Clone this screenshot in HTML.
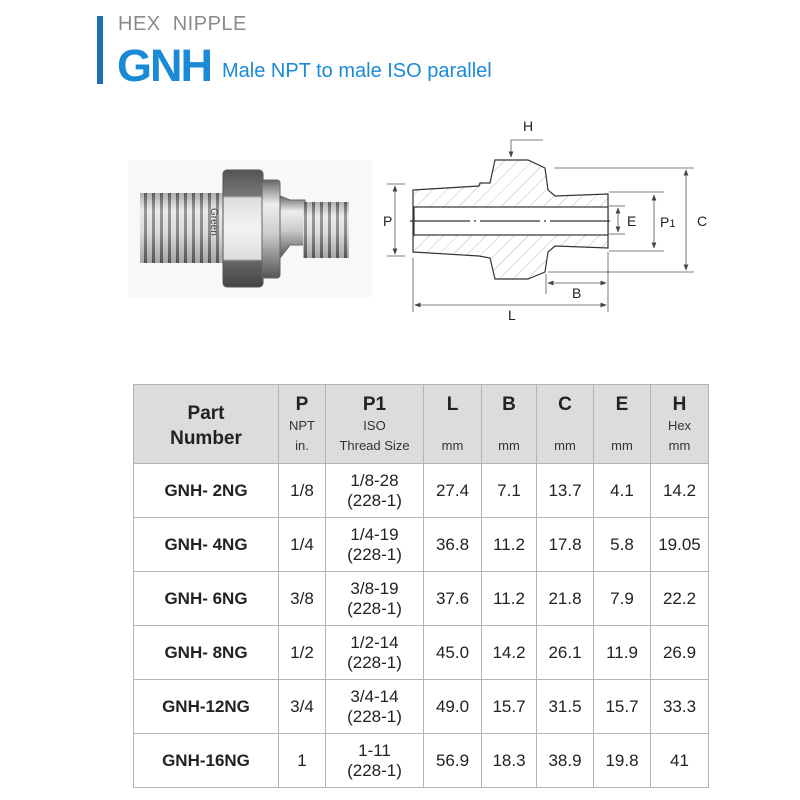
<!DOCTYPE html>
<html><head><style>
body{margin:0;width:800px;height:800px;background:#fff;position:relative;font-family:"Liberation Sans",sans-serif;overflow:hidden}
.abs{position:absolute}
table{position:absolute;left:133px;top:384px;border-collapse:collapse;table-layout:fixed;font-family:"Liberation Sans",sans-serif;color:#222}
td{border:1px solid #b4b4b4;text-align:center;padding:0;font-size:17px;line-height:20px}
tr.h td{background:#dcdcdc;height:78px;vertical-align:top}
tr.r td{height:53px}
.big{font-size:19px;font-weight:bold;display:block;margin-top:10px}
.sm{font-size:13px;line-height:15px;color:#333}
.pn{font-weight:bold;font-size:17px}
</style></head><body>
<div class="abs" style="left:97px;top:16px;width:6px;height:68px;background:#1a6fb8"></div>
<div class="abs" style="left:118px;top:13px;font-size:20px;color:#8a8a8a;letter-spacing:0.5px">HEX&nbsp; NIPPLE</div>
<div class="abs" style="left:117px;top:40px;font-size:45px;font-weight:bold;color:#1a8ad6;letter-spacing:-2px">GNH</div>
<div class="abs" style="left:222px;top:60px;font-size:20px;color:#1a8ad6">Male NPT to male ISO parallel</div>

<svg class="abs" style="left:0;top:0" width="800" height="380">
<defs>
<linearGradient id="m" x1="0" y1="0" x2="0" y2="1"><stop offset="0" stop-color="#666"/><stop offset=".25" stop-color="#eee"/><stop offset=".55" stop-color="#ccc"/><stop offset="1" stop-color="#555"/></linearGradient>
<linearGradient id="hx" x1="0" y1="0" x2="0" y2="1"><stop offset="0" stop-color="#555"/><stop offset=".22" stop-color="#777"/><stop offset=".24" stop-color="#ddd"/><stop offset=".5" stop-color="#f4f4f4"/><stop offset=".76" stop-color="#ddd"/><stop offset=".78" stop-color="#666"/><stop offset="1" stop-color="#444"/></linearGradient>
<pattern id="th" width="8" height="10" patternUnits="userSpaceOnUse"><rect width="8" height="10" fill="#e8e8e8"/><rect width="3" height="10" fill="#555"/></pattern>
<pattern id="ha" width="10" height="10" patternUnits="userSpaceOnUse" patternTransform="rotate(45)"><line x1="0" y1="0" x2="0" y2="10" stroke="#bbb" stroke-width="1"/></pattern>
<marker id="a" markerWidth="8" markerHeight="6" refX="7" refY="3" orient="auto-start-reverse"><path d="M0,0 L8,3 L0,6" fill="#444"/></marker>
</defs>
<rect x="128" y="160" width="244" height="137" fill="#f8f8f8"/>
<rect x="140" y="193" width="85" height="70" fill="url(#th)"/>
<rect x="140" y="193" width="85" height="70" fill="url(#m)" opacity=".45"/>
<rect x="223" y="170" width="40" height="117" rx="4" fill="url(#hx)" stroke="#555"/>
<rect x="262" y="180" width="18" height="98" rx="3" fill="url(#m)" stroke="#666"/>
<path d="M280,196 L290,200 L305,200 L305,245 L290,245 L280,258 Z" fill="url(#m)" stroke="#666"/>
<rect x="303" y="202" width="46" height="56" fill="url(#th)"/>
<rect x="303" y="202" width="46" height="56" fill="url(#m)" opacity=".45"/>
<text x="211" y="208" font-size="10" fill="#444" transform="rotate(90 211 208)">Green</text>
<g stroke="#333" stroke-width="1.2" fill="none">
<path d="M413,190 L479,186 L480,183 L490,183 L495,160 L528,160 L545,168 L548,190 L555,196 L608,194 L608,248 L555,246 L548,252 L545,272 L528,279 L495,279 L490,258 L479,256 L413,252 Z" fill="url(#ha)"/>
<rect x="414" y="207" width="194" height="28" fill="#fff"/>
<line x1="410" y1="221" x2="612" y2="221" stroke-dasharray="60 4 2 4"/>
</g>
<g stroke="#555" stroke-width="0.8" fill="none">
<path d="M543,140 L511,140 L511,157" marker-end="url(#a)"/>
<line x1="387" y1="184" x2="405" y2="184"/><line x1="387" y1="256" x2="405" y2="256"/>
<line x1="395" y1="186" x2="395" y2="254" marker-start="url(#a)" marker-end="url(#a)"/>
<line x1="554" y1="168" x2="694" y2="168"/><line x1="548" y1="272" x2="694" y2="272"/>
<line x1="686" y1="170" x2="686" y2="270" marker-start="url(#a)" marker-end="url(#a)"/>
<line x1="609" y1="192" x2="664" y2="192"/><line x1="609" y1="251" x2="664" y2="251"/>
<line x1="654" y1="195" x2="654" y2="248" marker-start="url(#a)" marker-end="url(#a)"/>
<line x1="609" y1="206" x2="625" y2="206"/><line x1="609" y1="234" x2="625" y2="234"/>
<line x1="618" y1="208" x2="618" y2="232" marker-start="url(#a)" marker-end="url(#a)"/>
<line x1="546" y1="274" x2="546" y2="294"/><line x1="608" y1="252" x2="608" y2="312"/>
<line x1="548" y1="283" x2="606" y2="283" marker-start="url(#a)" marker-end="url(#a)"/>
<line x1="413" y1="258" x2="413" y2="312"/>
<line x1="415" y1="305" x2="606" y2="305" marker-start="url(#a)" marker-end="url(#a)"/>
</g>
<g font-size="14" fill="#222" font-family="Liberation Sans">
<text x="523" y="131">H</text><text x="383" y="226">P</text><text x="627" y="226">E</text>
<text x="660" y="227">P<tspan font-size="11">1</tspan></text><text x="697" y="226">C</text>
<text x="572" y="298">B</text><text x="508" y="320">L</text>
</g>
</svg>

<table>
<colgroup><col style="width:145px"><col style="width:47px"><col style="width:98px"><col style="width:58px"><col style="width:55px"><col style="width:57px"><col style="width:57px"><col style="width:58px"></colgroup>
<tr class="h"><td><span class="big" style="margin-top:16px;line-height:25px">Part<br>Number</span></td>
<td><span class="big">P</span><span class="sm">NPT<br>in.</span></td>
<td><span class="big">P1</span><span class="sm">ISO<br>Thread Size</span></td>
<td><span class="big">L</span><span class="sm"><br>mm</span></td>
<td><span class="big">B</span><span class="sm"><br>mm</span></td>
<td><span class="big">C</span><span class="sm"><br>mm</span></td>
<td><span class="big">E</span><span class="sm"><br>mm</span></td>
<td><span class="big">H</span><span class="sm">Hex<br>mm</span></td></tr>
<tr class="r"><td class="pn">GNH- 2NG</td><td>1/8</td><td>1/8-28<br>(228-1)</td><td>27.4</td><td>7.1</td><td>13.7</td><td>4.1</td><td>14.2</td></tr>
<tr class="r"><td class="pn">GNH- 4NG</td><td>1/4</td><td>1/4-19<br>(228-1)</td><td>36.8</td><td>11.2</td><td>17.8</td><td>5.8</td><td>19.05</td></tr>
<tr class="r"><td class="pn">GNH- 6NG</td><td>3/8</td><td>3/8-19<br>(228-1)</td><td>37.6</td><td>11.2</td><td>21.8</td><td>7.9</td><td>22.2</td></tr>
<tr class="r"><td class="pn">GNH- 8NG</td><td>1/2</td><td>1/2-14<br>(228-1)</td><td>45.0</td><td>14.2</td><td>26.1</td><td>11.9</td><td>26.9</td></tr>
<tr class="r"><td class="pn">GNH-12NG</td><td>3/4</td><td>3/4-14<br>(228-1)</td><td>49.0</td><td>15.7</td><td>31.5</td><td>15.7</td><td>33.3</td></tr>
<tr class="r"><td class="pn">GNH-16NG</td><td>1</td><td>1-11<br>(228-1)</td><td>56.9</td><td>18.3</td><td>38.9</td><td>19.8</td><td>41</td></tr>
</table>
</body></html>
